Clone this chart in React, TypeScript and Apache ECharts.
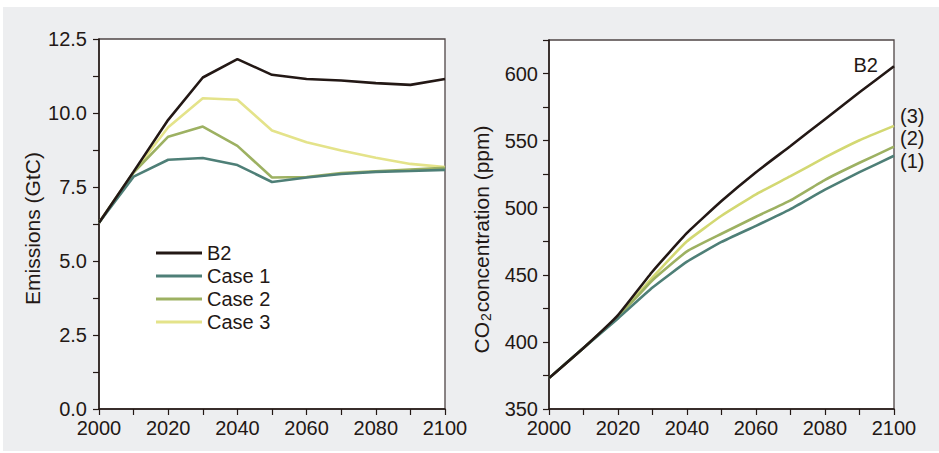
import React, { useEffect, useRef } from 'react';
import * as echarts from 'echarts';

const years = [2000, 2010, 2020, 2030, 2040, 2050, 2060, 2070, 2080, 2090, 2100];
const seriesNames = ['B2', 'Case 1', 'Case 2', 'Case 3'];
const emB2 = [6.29, 8.02, 9.77, 11.2, 11.82, 11.29, 11.15, 11.1, 11.01, 10.95, 11.15];
const emCase1 = [6.29, 7.85, 8.42, 8.48, 8.24, 7.67, 7.82, 7.94, 8.01, 8.04, 8.08];
const emCase2 = [6.29, 7.99, 9.2, 9.54, 8.89, 7.82, 7.84, 7.97, 8.03, 8.09, 8.15];
const emCase3 = [6.29, 8.0, 9.52, 10.5, 10.45, 9.41, 9.01, 8.73, 8.49, 8.28, 8.17];
const coB2 = [373, 395.5, 420, 452.5, 481.2, 505, 526.5, 546, 566, 586, 605.5];
const coCase1 = [373, 395.5, 417.5, 440.5, 459.8, 474.5, 486.5, 499, 513.5, 526.5, 538.7];
const coCase2 = [373, 395.5, 418.5, 446, 467.5, 480.6, 493.3, 505.5, 520.8, 533.5, 545.5];
const coCase3 = [373, 395.5, 419, 448, 475, 494, 510, 523.5, 537.5, 550.3, 561];
const endLabels = ['B2', '(1)', '(2)', '(3)'];

const INK = '#231815';
const FRAME = '#4f4646';
const COLORS = ['#231815', '#4e7f77', '#9db162', '#e4e38a'];
const COLORS_R = ['#231815', '#4e7f77', '#9db162', '#d3d872'];
const FONT = 'Liberation Sans, Arial, sans-serif';

const pairs = (vals: number[]) => years.map((y, i) => [y, vals[i]]);

export default function App() {
  const ref = useRef<HTMLDivElement>(null);
  useEffect(() => {
    document.body.style.margin = '0';
    const chart = echarts.init(ref.current!, undefined, { renderer: 'svg' });
    const xAxisBase = (gridIndex: number) => ({
      type: 'value' as const,
      gridIndex,
      min: 2000,
      max: 2100,
      interval: 10,
      axisLine: { show: true, lineStyle: { color: INK, width: 1.5 } },
      axisTick: { show: true, length: 6, lineStyle: { color: INK, width: 1.2 } },
      splitLine: { show: false },
      axisLabel: {
        color: INK,
        fontSize: 20,
        fontFamily: FONT,
        margin: 9,
        formatter: (v: number) => (v % 20 === 0 ? String(v) : ''),
      },
    });
    const emSeries = [emB2, emCase1, emCase2, emCase3];
    const coSeries = [coB2, coCase1, coCase2, coCase3];
    const series: any[] = [];
    emSeries.forEach((s, i) => {
      series.push({
        type: 'line',
        name: seriesNames[i],
        xAxisIndex: 0,
        yAxisIndex: 0,
        data: pairs(s),
        showSymbol: false,
        symbol: 'none',
        lineStyle: { color: COLORS[i], width: 2.6 },
        itemStyle: { color: COLORS[i] },
        z: 10 - i,
      });
    });
    coSeries.forEach((s, i) => {
      series.push({
        type: 'line',
        name: seriesNames[i],
        xAxisIndex: 1,
        yAxisIndex: 1,
        data: pairs(s),
        showSymbol: false,
        symbol: 'none',
        smooth: 0.12,
        lineStyle: { color: COLORS_R[i], width: 2.6 },
        itemStyle: { color: COLORS_R[i] },
        z: 10 - i,
      });
    });
    const option: any = {
      animation: false,
      backgroundColor: '#ffffff',
      textStyle: { fontFamily: FONT },
      grid: [
        { left: 99, top: 39, width: 346, height: 370, show: true, backgroundColor: '#ffffff', borderColor: FRAME, borderWidth: 1.3 },
        { left: 549, top: 40, width: 345, height: 369, show: true, backgroundColor: '#ffffff', borderColor: FRAME, borderWidth: 1.3 },
      ],
      legend: {
        data: seriesNames,
        orient: 'vertical',
        left: 156,
        top: 243,
        padding: 0,
        itemWidth: 46,
        itemHeight: 3,
        itemGap: 3,
        icon: 'rect',
        selectedMode: false,
        textStyle: { color: INK, fontSize: 20, fontFamily: FONT, lineHeight: 20 },
      },
      xAxis: [xAxisBase(0), xAxisBase(1)],
      yAxis: [
        {
          type: 'value',
          gridIndex: 0,
          min: 0,
          max: 12.5,
          interval: 1.25,
          name: 'Emissions (GtC)',
          nameLocation: 'middle',
          nameGap: 56,
          nameTextStyle: { color: INK, fontSize: 21, fontFamily: FONT, padding: [0, 9, 0, 0] },
          axisLine: { show: true, lineStyle: { color: INK, width: 1.5 } },
          axisTick: { show: true, length: 6, lineStyle: { color: INK, width: 1.2 } },
          splitLine: { show: false },
          axisLabel: {
            color: INK,
            fontSize: 20,
            fontFamily: FONT,
            margin: 12,
            formatter: (v: number) => (Math.abs((v / 2.5) - Math.round(v / 2.5)) < 1e-6 ? v.toFixed(1) : ''),
          },
        },
        {
          type: 'value',
          gridIndex: 1,
          min: 350,
          max: 625,
          interval: 25,
          name: '{a|CO}{s|2}{a|concentration (ppm)}',
          nameLocation: 'middle',
          nameGap: 56,
          nameTextStyle: {
            color: INK,
            fontSize: 21,
            fontFamily: FONT,
            padding: [0, 30, 0, 0],
            rich: {
              a: { color: INK, fontSize: 21, fontFamily: FONT },
              s: { color: INK, fontSize: 14, fontFamily: FONT, padding: [10, 1, 0, 1] },
            },
          },
          axisLine: { show: true, lineStyle: { color: INK, width: 1.5 } },
          axisTick: { show: true, length: 6, lineStyle: { color: INK, width: 1.2 } },
          splitLine: { show: false },
          axisLabel: {
            color: INK,
            fontSize: 20,
            fontFamily: FONT,
            margin: 11,
            formatter: (v: number) => (v % 50 === 0 ? String(v) : ''),
          },
        },
      ],
      series,
      graphic: [
        { type: 'rect', z: -10, silent: true, shape: { x: 3, y: 7, width: 936, height: 444 }, style: { fill: '#edeef0' } },
      ],
    };
    chart.setOption(option);
    // end labels on the right panel, positioned from the data
    const offsets: [number, number, string][] = [
      [-16, -1, 'right'],
      [6, 5, 'left'],
      [6, -8.5, 'left'],
      [6, -9.5, 'left'],
    ];
    const labelGraphics = coSeries.map((s, i) => {
      const p = chart.convertToPixel({ gridIndex: 1 }, [years[years.length - 1], s[s.length - 1]]) as number[];
      return {
        type: 'text',
        z: 100,
        x: p[0] + offsets[i][0],
        y: p[1] + offsets[i][1],
        style: {
          text: endLabels[i],
          fill: INK,
          fontSize: 20,
          fontFamily: FONT,
          align: offsets[i][2],
          verticalAlign: 'middle',
        },
      };
    });
    chart.setOption({ graphic: [option.graphic[0], ...labelGraphics] });
    return () => chart.dispose();
  }, []);
  return <div ref={ref} style={{ width: 939, height: 453 }} />;
}
